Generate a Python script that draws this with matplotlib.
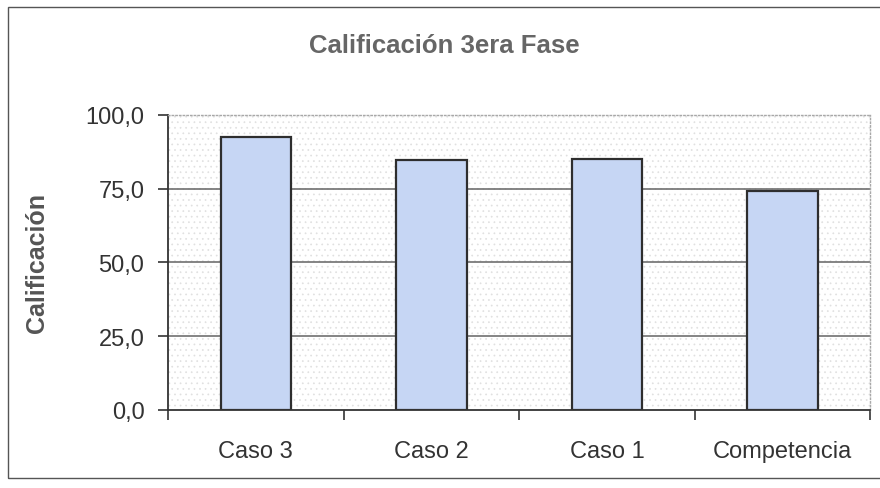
import matplotlib.pyplot as plt
from matplotlib.patches import Rectangle
from matplotlib.ticker import FuncFormatter, FixedLocator

plt.rcParams['font.family'] = ['Liberation Sans', 'DejaVu Sans']
plt.rcParams['hatch.linewidth'] = 0.5

# datos
categorias = ["Caso 3", "Caso 2", "Caso 1", "Competencia"]
calificacion = [92.5, 84.8, 85.2, 74.2]
ticks_y = [0, 25, 50, 75, 100]

fig = plt.figure(figsize=(8.8, 4.89), dpi=100)
ax = fig.add_axes([0.191, 0.16, 0.798, 0.603])

# fondo punteado del area de trazado
ax.set_facecolor("white")
ax.add_patch(Rectangle((0, 0), 1, 1, transform=ax.transAxes, facecolor="white",
                       edgecolor="#e0e0e0", hatch="...", linewidth=0, zorder=0))

# lineas de division
for v in ticks_y[1:-1]:
    ax.axhline(v, color="#707070", linewidth=1.2, zorder=1)

x = range(len(categorias))
ax.bar(x, calificacion, width=0.4, color="#c6d6f4", edgecolor="#2e2e2e",
       linewidth=1.6, zorder=2)

ax.set_xlim(-0.5, len(categorias) - 0.5)
ax.set_ylim(0, 100)

ax.yaxis.set_major_locator(FixedLocator(ticks_y))
ax.yaxis.set_major_formatter(FuncFormatter(lambda v, p: f"{v:.1f}".replace(".", ",")))

# marcas del eje x entre categorias, etiquetas al centro
ax.xaxis.set_major_locator(FixedLocator([i - 0.5 for i in range(len(categorias) + 1)]))
ax.xaxis.set_major_formatter(FuncFormatter(lambda v, p: ""))
ax.set_xticks(list(x), categorias, minor=True)
ax.tick_params(axis="x", which="minor", length=0, pad=22, labelsize=17, labelcolor="#333333")
ax.tick_params(axis="x", which="major", length=7, width=1.2, color="#333333")
ax.tick_params(axis="y", length=7, width=1.2, color="#333333", pad=10,
               labelsize=17, labelcolor="#333333")

for s in ["left", "bottom"]:
    ax.spines[s].set_color("#333333")
    ax.spines[s].set_linewidth(1.3)
for s in ["top", "right"]:
    ax.spines[s].set_color("#a8a8a8")
    ax.spines[s].set_linestyle(":")
    ax.spines[s].set_linewidth(1.0)

ax.set_ylabel("Calificación", fontsize=18, fontweight="bold", color="#555555", labelpad=26)
fig.text(0.505, 0.905, "Calificación 3era Fase", ha="center", va="center",
         fontsize=18.5, fontweight="bold", color="#666666")

# marco exterior del grafico
fig.patches.append(Rectangle((0.009, 0.02), 0.995, 0.963, transform=fig.transFigure,
                             fill=False, edgecolor="#555555", linewidth=1.0))

fig.savefig("out.png", dpi=100)
